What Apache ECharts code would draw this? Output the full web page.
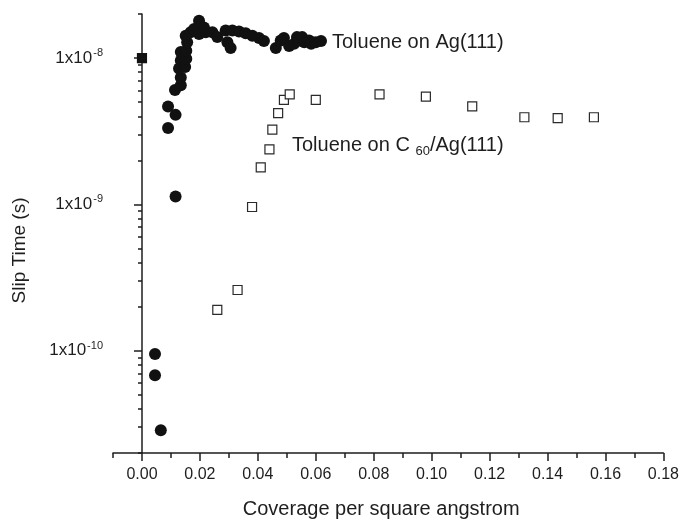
<!DOCTYPE html>
<html>
<head>
<meta charset="utf-8">
<script src="https://cdn.jsdelivr.net/npm/echarts@6/dist/echarts.min.js"></script>
<style>
  html, body { margin: 0; padding: 0; background: #fff; }
  #chart { width: 682px; height: 524px; }
</style>
</head>
<body>
<div id="chart"></div>
<script>
// Toluene on C60/Ag(111) (open squares)
var c60X = [0, 0.026, 0.033, 0.038, 0.041, 0.044, 0.045, 0.047, 0.049, 0.051, 0.060, 0.082, 0.098, 0.114, 0.132, 0.1435, 0.156];
var c60Y = [1e-8, 1.9e-10, 2.6e-10, 9.6e-10, 1.79e-9, 2.38e-9, 3.24e-9, 4.2e-9, 5.18e-9, 5.65e-9, 5.18e-9, 5.65e-9, 5.45e-9, 4.67e-9, 3.94e-9, 3.89e-9, 3.94e-9];

// Toluene on Ag(111) (filled circles)
var agX = [0, 0.0045, 0.0045, 0.0065, 0.0116, 0.0090, 0.0090, 0.0116, 0.0114, 0.0134, 0.0134, 0.0128, 0.0149, 0.0134, 0.0153,
  0.0134, 0.0153, 0.0156, 0.0151, 0.0168, 0.0180, 0.0197, 0.0214, 0.0220, 0.0197, 0.0243, 0.0260, 0.0289, 0.0295, 0.0306,
  0.0312, 0.0335, 0.0358, 0.0381, 0.0404, 0.0421, 0.0462, 0.0479, 0.0490, 0.0508, 0.0525, 0.0535, 0.0542, 0.0553, 0.0560,
  0.0577, 0.0584, 0.0600, 0.0618];
var agY = [1e-8, 9.5e-11, 6.8e-11, 2.86e-11, 1.13e-9, 3.33e-9, 4.67e-9, 4.09e-9, 6.04e-9, 6.53e-9, 7.36e-9, 8.47e-9, 8.69e-9, 9.63e-9, 9.89e-9,
  1.10e-8, 1.12e-8, 1.28e-8, 1.42e-8, 1.50e-8, 1.58e-8, 1.80e-8, 1.62e-8, 1.50e-8, 1.46e-8, 1.50e-8, 1.39e-8, 1.54e-8, 1.28e-8, 1.17e-8,
  1.54e-8, 1.52e-8, 1.48e-8, 1.42e-8, 1.37e-8, 1.31e-8, 1.17e-8, 1.32e-8, 1.37e-8, 1.21e-8, 1.25e-8, 1.39e-8, 1.32e-8, 1.39e-8, 1.28e-8,
  1.32e-8, 1.25e-8, 1.28e-8, 1.31e-8];

// axis ticks
var xMajor = [0, 0.02, 0.04, 0.06, 0.08, 0.10, 0.12, 0.14, 0.16, 0.18];
var xMinor = [-0.01, 0.01, 0.03, 0.05, 0.07, 0.09, 0.11, 0.13, 0.15, 0.17];
var yMajor = [1e-10, 1e-9, 1e-8];
var yMinor = [2e-11, 3e-11, 4e-11, 5e-11, 6e-11, 7e-11, 8e-11, 9e-11,
  2e-10, 3e-10, 4e-10, 5e-10, 6e-10, 7e-10, 8e-10, 9e-10,
  2e-9, 3e-9, 4e-9, 5e-9, 6e-9, 7e-9, 8e-9, 9e-9, 2e-8];

var font = 'Liberation Sans, Arial, sans-serif';
var ink = '#1e1e1e';

var chartDom = document.getElementById('chart');
var myChart = echarts.init(chartDom);

var c60Data = c60X.map(function (x, i) { return [x, c60Y[i]]; });
var agData = agX.map(function (x, i) {
  if (x === 0) {
    return { value: [x, agY[i]], symbol: 'rect', symbolSize: 10 };
  }
  return [x, agY[i]];
});

var option = {
  animation: false,
  textStyle: { fontFamily: font },
  grid: { left: 113, right: 16, top: 14, bottom: 67 },
  xAxis: [
    {
      type: 'value', min: -0.01, max: 0.18,
      name: 'Coverage per square angstrom', nameLocation: 'middle', nameGap: 46,
      nameTextStyle: { fontSize: 20, color: ink, fontFamily: font, padding: [0, 14, 0, 0] },
      axisLine: { lineStyle: { color: ink, width: 1.5 } },
      axisTick: { customValues: xMajor, length: 8, lineStyle: { color: ink, width: 1.5 } },
      axisLabel: {
        customValues: xMajor, margin: 14, fontSize: 16, color: ink, fontFamily: font,
        formatter: function (v) { return v.toFixed(2); }
      },
      splitLine: { show: false }
    },
    {
      type: 'value', min: -0.01, max: 0.18, position: 'bottom',
      axisLine: { show: false },
      axisTick: { customValues: xMinor, length: 5, lineStyle: { color: ink, width: 1.5 } },
      axisLabel: { show: false },
      splitLine: { show: false }
    }
  ],
  yAxis: [
    {
      type: 'log', min: 2e-11, max: 2e-8,
      name: 'Slip Time (s)', nameLocation: 'middle', nameGap: 84,
      nameTextStyle: { fontSize: 19, color: ink, fontFamily: font, padding: [0, 34, 0, 0] },
      axisLine: { lineStyle: { color: ink, width: 1.5 } },
      axisTick: { customValues: yMajor, length: 8, lineStyle: { color: ink, width: 1.5 } },
      axisLabel: {
        customValues: yMajor, margin: 10, color: ink, fontFamily: font,
        formatter: function (v) {
          var e = Math.round(Math.log10(v));
          return '{b|1x10}{s|' + e + '}';
        },
        rich: {
          b: { fontSize: 17, color: ink, fontFamily: font },
          s: { fontSize: 11, color: ink, fontFamily: font, padding: [0, 0, 10, 1] }
        }
      },
      splitLine: { show: false }
    },
    {
      type: 'log', min: 2e-11, max: 2e-8, position: 'left',
      axisLine: { show: false },
      axisTick: { customValues: yMinor, length: 4, lineStyle: { color: ink, width: 1.5 } },
      axisLabel: { show: false },
      splitLine: { show: false }
    }
  ],
  graphic: [
    {
      type: 'text', left: 332, top: 32,
      style: { text: 'Toluene on Ag(111)', fontSize: 20, fill: ink, fontFamily: font }
    },
    {
      type: 'text', left: 292, top: 135,
      style: {
        text: 'Toluene on C {sub|60}/Ag(111)', fontSize: 20, fill: ink, fontFamily: font,
        rich: { sub: { fontSize: 13, fill: ink, fontFamily: font, padding: [12, 0, 0, 0] } }
      }
    }
  ],
  series: [
    {
      name: 'Toluene on C60/Ag(111)',
      type: 'scatter',
      symbol: 'rect',
      symbolSize: 9,
      itemStyle: { color: '#fff', borderColor: '#2a2a2a', borderWidth: 1.2, opacity: 1 },
      data: c60Data
    },
    {
      name: 'Toluene on Ag(111)',
      type: 'scatter',
      symbol: 'circle',
      symbolSize: 12,
      itemStyle: { color: '#111', opacity: 1 },
      data: agData
    }
  ]
};

option && myChart.setOption(option);
</script>
</body>
</html>
